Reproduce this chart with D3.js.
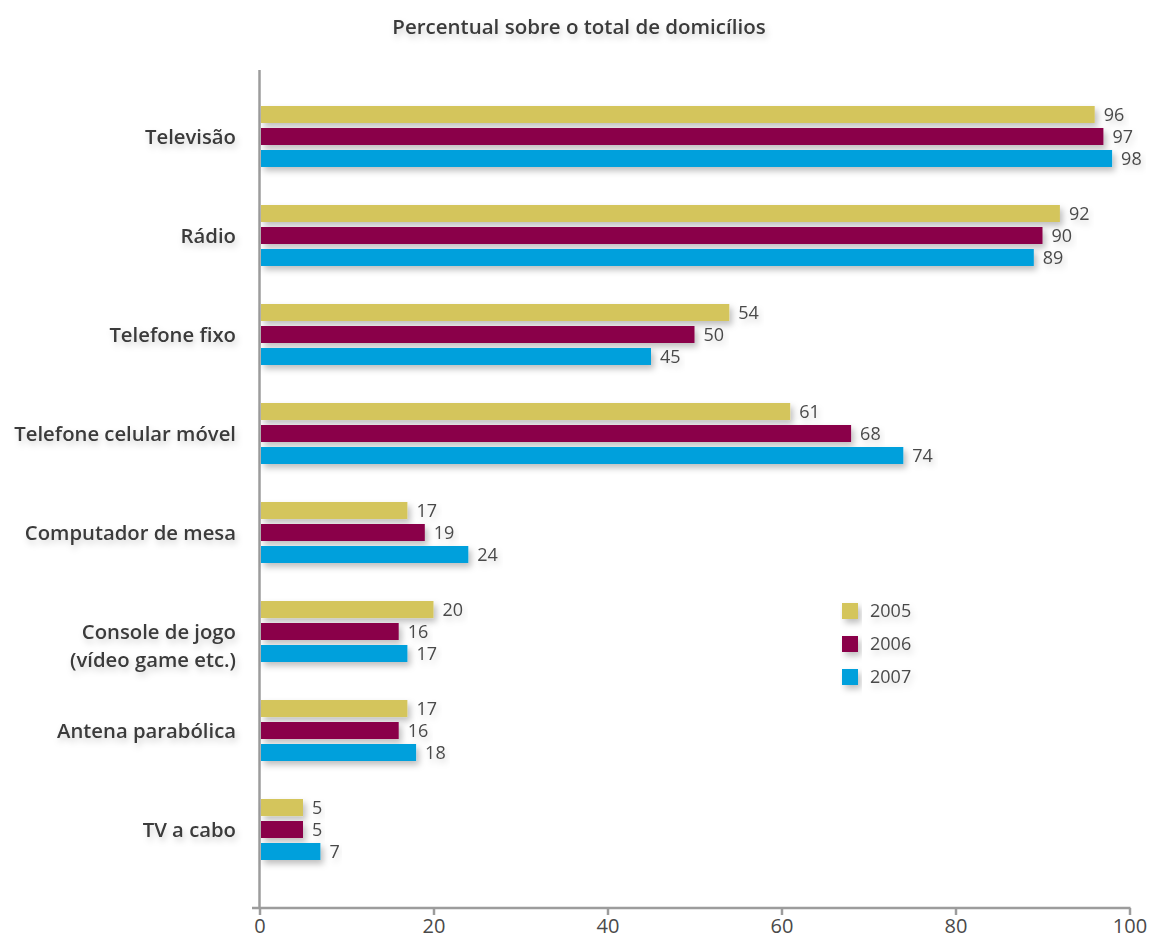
<!DOCTYPE html>
<html lang="pt">
<head>
    <meta charset="UTF-8" />
    <title>Percentual sobre o total de domicílios</title>
    <script src="https://d3js.org/d3.v7.min.js"></script>
    <style>
        body {
            margin: 0;
            background: #ffffff;
            font-family: "Open Sans", "Noto Sans", sans-serif;
        }

        .title {
            font-size: 20.5px;
            font-weight: 600;
            fill: #3a3a3a;
            text-anchor: middle;
        }

        .cat-label {
            font-size: 20.3px;
            font-weight: 600;
            fill: #3a3a3a;
            text-anchor: end;
        }

        .val-label {
            font-size: 18px;
            fill: #4a4a4a;
        }

        .legend-label {
            font-size: 18px;
            fill: #4a4a4a;
        }

        .axis path,
        .axis line {
            stroke: #9c9c9c;
            stroke-width: 2.5;
        }

        .axis text {
            font-family: "Open Sans", "Noto Sans", sans-serif;
            font-size: 20px;
            fill: #4a4a4a;
        }
    </style>
</head>

<body>
    <div id="chart"></div>

    <script>
        // data
        var categories = [
            "Televisão",
            "Rádio",
            "Telefone fixo",
            "Telefone celular móvel",
            "Computador de mesa",
            "Console de jogo|(vídeo game etc.)",
            "Antena parabólica",
            "TV a cabo"
        ];
        var years = ["2005", "2006", "2007"];
        var values2005 = [96, 92, 54, 61, 17, 20, 17, 5];
        var values2006 = [97, 90, 50, 68, 19, 16, 16, 5];
        var values2007 = [98, 89, 45, 74, 24, 17, 18, 7];
        var xTicks = [0, 20, 40, 60, 80, 100];
        var colors = ["#d4c55c", "#8a0049", "#00a0dc"];

        var w = 1151;
        var h = 943;

        var seriesValues = [values2005, values2006, values2007];

        var svg = d3.select("#chart")
            .append("svg")
            .attr("width", w)
            .attr("height", h);

        // soft shadows, like the original print
        var defs = svg.append("defs");
        var barShadow = defs.append("filter")
            .attr("id", "barShadow")
            .attr("x", "-10%").attr("y", "-50%")
            .attr("width", "130%").attr("height", "250%");
        barShadow.append("feDropShadow")
            .attr("dx", 3).attr("dy", 4)
            .attr("stdDeviation", 3)
            .attr("flood-color", "#000")
            .attr("flood-opacity", 0.25);

        var textShadow = defs.append("filter")
            .attr("id", "textShadow")
            .attr("x", "-20%").attr("y", "-50%")
            .attr("width", "140%").attr("height", "250%");
        textShadow.append("feDropShadow")
            .attr("dx", 2).attr("dy", 4)
            .attr("stdDeviation", 3)
            .attr("flood-color", "#000")
            .attr("flood-opacity", 0.18);

        // scales
        var xScale = d3.scaleLinear()
            .domain([0, 100])
            .range([259.5, 1129.5]);

        var yScale = d3.scaleBand()
            .domain(categories)
            .range([106, 860])
            .paddingInner(0.384)
            .paddingOuter(0);

        var ySub = d3.scaleBand()
            .domain(years)
            .range([0, yScale.bandwidth()])
            .paddingInner(5 / 22);

        // title
        svg.append("text")
            .attr("class", "title")
            .attr("x", 579)
            .attr("y", 34)
            .attr("filter", "url(#textShadow)")
            .text("Percentual sobre o total de domicílios");

        // axes
        var xAxis = d3.axisBottom(xScale)
            .tickValues(xTicks)
            .tickSize(7)
            .tickSizeOuter(0)
            .tickPadding(4);

        var gx = svg.append("g")
            .attr("class", "axis")
            .attr("transform", "translate(0,908)")
            .call(xAxis);

        gx.select(".domain").remove();
        gx.insert("line", ":first-child")
            .attr("x1", 252)
            .attr("x2", xScale(100) + 1)
            .attr("y1", 0)
            .attr("y2", 0);

        svg.append("g")
            .attr("class", "axis")
            .append("line")
            .attr("x1", xScale(0))
            .attr("x2", xScale(0))
            .attr("y1", 70)
            .attr("y2", 909);

        // bars
        var groups = svg.selectAll(".cat")
            .data(categories)
            .enter()
            .append("g")
            .attr("class", "cat")
            .attr("transform", function(d) { return "translate(0," + yScale(d) + ")"; });

        groups.each(function(cat, ci) {
            var g = d3.select(this);
            var rows = years.map(function(y, si) {
                return { year: y, value: seriesValues[si][ci], color: colors[si] };
            });

            g.selectAll("rect")
                .data(rows)
                .enter()
                .append("rect")
                .attr("x", xScale(0) + 1.5)
                .attr("y", function(d) { return ySub(d.year); })
                .attr("width", function(d) { return xScale(d.value) - xScale(0) - 1.5; })
                .attr("height", ySub.bandwidth())
                .attr("fill", function(d) { return d.color; })
                .attr("filter", "url(#barShadow)");

            g.selectAll(".val-label")
                .data(rows)
                .enter()
                .append("text")
                .attr("class", "val-label")
                .attr("x", function(d) { return xScale(d.value) + 9; })
                .attr("y", function(d) { return ySub(d.year) + ySub.bandwidth() / 2; })
                .attr("dy", "0.36em")
                .attr("filter", "url(#textShadow)")
                .text(function(d) { return d.value; });

            // category label: first line level with the middle bar
            var lines = cat.split("|");
            var midY = ySub("2006") + ySub.bandwidth() / 2;
            var lineH = 28;
            var label = g.append("text")
                .attr("class", "cat-label")
                .attr("filter", "url(#textShadow)");
            lines.forEach(function(t, i) {
                label.append("tspan")
                    .attr("x", 236)
                    .attr("y", midY + i * lineH)
                    .attr("dy", "0.36em")
                    .text(t);
            });
        });

        // legend
        var legend = svg.append("g")
            .attr("transform", "translate(842,603)");

        var items = legend.selectAll("g")
            .data(years)
            .enter()
            .append("g")
            .attr("transform", function(d, i) { return "translate(0," + i * 33 + ")"; });

        items.append("rect")
            .attr("width", 16)
            .attr("height", 16)
            .attr("fill", function(d, i) { return colors[i]; })
            .attr("filter", "url(#barShadow)");

        items.append("text")
            .attr("class", "legend-label")
            .attr("x", 28)
            .attr("y", 8)
            .attr("dy", "0.36em")
            .attr("filter", "url(#textShadow)")
            .text(function(d) { return d; });
    </script>
</body>
</html>
